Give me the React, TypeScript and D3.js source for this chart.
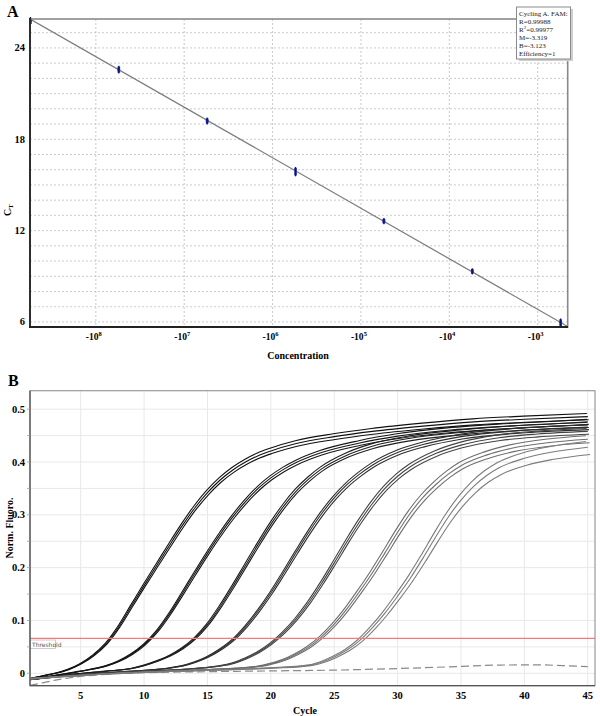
import React from "react";
import * as d3 from "d3";

// ---------- Panel A data ----------
const logConc = [8.74, 7.74, 6.74, 5.74, 4.74, 3.74, 2.74];
const ctRep1 = [25.85, 22.65, 19.25, 16.0, 12.65, 9.35, 6.05];
const ctRep2 = [25.7, 22.5, 19.15, 15.75, 12.6, 9.3, 5.85];
const fitM = -3.319;
const fitB = -3.123;
const legendTitle = "Cycling A. FAM:";
const legendR = "0.99988";
const legendR2 = "0.99977";
const legendEff = "1";
const aYTicks = [6, 12, 18, 24];
const aXDecades = [8, 7, 6, 5, 4, 3];

// ---------- Panel B data ([cycle, norm. fluorescence]) ----------
const group1: [number, number][] = [[1,-0.010],[2,-0.005],[3,0.0],[4,0.007],[5,0.018],[6,0.034],[7,0.056],[8,0.088],[9,0.127],[10,0.166],[11,0.204],[12,0.242],[13,0.279],[14,0.313],[15,0.342],[16,0.366],[17,0.385],[18,0.4],[19,0.412],[20,0.421],[22,0.435],[25,0.448],[28,0.458],[32,0.468],[36,0.476],[40,0.481],[45,0.486]];
const group2: [number, number][] = [[1,-0.012],[3,-0.004],[5,0.004],[7,0.014],[8,0.023],[9,0.036],[10,0.054],[11,0.079],[12,0.112],[13,0.15],[14,0.189],[15,0.227],[16,0.263],[17,0.296],[18,0.325],[19,0.35],[20,0.37],[21,0.386],[22,0.399],[24,0.418],[27,0.436],[30,0.449],[34,0.46],[38,0.467],[42,0.472],[45,0.476]];
const group3: [number, number][] = [[1,-0.012],[4,-0.003],[7,0.004],[9,0.009],[10,0.015],[11,0.023],[12,0.033],[13,0.047],[14,0.066],[15,0.092],[16,0.126],[17,0.164],[18,0.204],[19,0.244],[20,0.282],[21,0.316],[22,0.345],[23,0.368],[24,0.387],[26,0.413],[28,0.43],[31,0.445],[35,0.456],[40,0.465],[45,0.47]];
const group4: [number, number][] = [[1,-0.012],[5,-0.002],[9,0.004],[12,0.01],[13,0.014],[14,0.021],[15,0.031],[16,0.045],[17,0.063],[18,0.088],[19,0.118],[20,0.152],[21,0.19],[22,0.229],[23,0.267],[24,0.302],[25,0.332],[26,0.357],[27,0.377],[28,0.394],[30,0.418],[32,0.433],[35,0.448],[40,0.46],[45,0.466]];
const group5: [number, number][] = [[1,-0.011],[6,-0.001],[10,0.004],[14,0.009],[16,0.014],[17,0.019],[18,0.028],[19,0.04],[20,0.056],[21,0.077],[22,0.103],[23,0.134],[24,0.17],[25,0.209],[26,0.249],[27,0.287],[28,0.321],[29,0.35],[30,0.373],[31,0.391],[33,0.416],[35,0.432],[38,0.446],[41,0.453],[45,0.458]];
const group6: [number, number][] = [[1,-0.011],[8,0.0],[12,0.004],[16,0.008],[19,0.013],[20,0.018],[21,0.025],[22,0.036],[23,0.05],[24,0.069],[25,0.093],[26,0.122],[27,0.155],[28,0.19],[29,0.228],[30,0.267],[31,0.303],[32,0.333],[33,0.357],[34,0.377],[35,0.393],[37,0.413],[39,0.426],[42,0.437],[45,0.443]];
const group7: [number, number][] = [[1,-0.01],[8,0.0],[14,0.005],[20,0.01],[23,0.015],[24,0.021],[25,0.031],[26,0.044],[27,0.062],[28,0.086],[29,0.114],[30,0.146],[31,0.18],[32,0.218],[33,0.258],[34,0.296],[35,0.328],[36,0.354],[37,0.374],[38,0.389],[40,0.407],[42,0.418],[45,0.428]];
const negControl: [number, number][] = [[1,-0.023],[2,-0.018],[3,-0.013],[4,-0.009],[5,-0.006],[7,-0.002],[10,0.001],[15,0.003],[20,0.0045],[25,0.006],[30,0.009],[35,0.013],[38,0.0155],[41,0.016],[43,0.0145],[45,0.0125]];
const groups = [group1, group2, group3, group4, group5, group6, group7];
const groupColors = ["#111", "#161616", "#1e1e1e", "#2e2e2e", "#444", "#6e6e6e", "#7c7c7c"];
const replicateShift = [
  [-0.07, 0, 0.07],
  [-0.07, 0, 0.08],
  [-0.08, 0, 0.08],
  [-0.08, 0, 0.1],
  [-0.1, 0, 0.1],
  [-0.15, 0, 0.15],
  [-0.15, 0, 0.18],
];
const replicateGain = [
  [1.012, 1.0, 0.988],
  [1.01, 1.0, 0.99],
  [1.01, 1.0, 0.99],
  [1.01, 1.0, 0.99],
  [1.012, 1.0, 0.988],
  [1.015, 1.0, 0.985],
  [1.025, 1.0, 0.968],
];
const threshold = 0.066;
const bYTicks = [0, 0.1, 0.2, 0.3, 0.4, 0.5];
const bXTicks = [5, 10, 15, 20, 25, 30, 35, 40, 45];

const serif = "'Liberation Serif', 'DejaVu Serif', serif";

export default function App() {
  // Panel A scales
  const ax = d3.scaleLinear().domain([8.745, 2.66]).range([30, 567.7]);
  const ay = d3.scaleLinear().domain([5.67, 25.9]).range([327, 19]);
  const aGridY = d3.range(6, 26);
  const fitLine = d3.line<number>().x((l) => ax(l)).y((l) => ay(fitB - fitM * l));
  const fitDomain = ax.domain();

  // Panel B scales
  const bx = d3.scaleLinear().domain([1, 45.57]).range([30, 595]);
  const by = d3.scaleLinear().domain([-0.0235, 0.535]).range([685.7, 390.7]);
  const bGridY = d3.range(0, 11).map((i) => i * 0.05);
  const curve = (shift: number, gain: number) =>
    d3
      .line<[number, number]>()
      .x((d) => bx(d[0] + shift))
      .y((d) => by(d[1] * gain))
      .curve(d3.curveMonotoneX);

  const [bx0, bx1] = bx.range();
  const [by1, by0] = by.range();

  return (
    <div style={{ position: "absolute", left: 0, top: 0 }}>
      <svg width={600} height={716} style={{ display: "block", background: "#fff" }} fontFamily={serif}>
        <defs>
          <clipPath id="clipB">
            <rect x={bx0} y={by0} width={bx1 - bx0} height={by1 - by0} />
          </clipPath>
          <clipPath id="clipA">
            <rect x={30} y={19} width={537.7} height={308} />
          </clipPath>
        </defs>

        {/* ================= PANEL A ================= */}
        <text x={7} y={17} fontSize={16} fontWeight="bold">A</text>
        <rect x={30} y={19} width={537.7} height={308} fill="#fff" />
        {aGridY.map((v) => (
          <line key={"agy" + v} x1={30} x2={567.7} y1={ay(v)} y2={ay(v)} stroke="#bdbdbd" strokeWidth={0.8} strokeDasharray="2,2" />
        ))}
        {aXDecades.map((d) => (
          <line key={"agx" + d} x1={ax(d)} x2={ax(d)} y1={19} y2={327} stroke="#bdbdbd" strokeWidth={0.8} strokeDasharray="2,2" />
        ))}
        <path d={fitLine(fitDomain) || ""} stroke="#7a7a7a" strokeWidth={1.2} fill="none" clipPath="url(#clipA)" />
        {logConc.map((l, i) => (
          <g key={"pt" + i}>
            {[ctRep1[i], ctRep2[i]].map((v, j) => (
              <g key={j}>
                <rect x={ax(l) - 1.3} y={ay(v) - 2} width={2.6} height={4} fill="#1f2aa8" />
                <rect x={ax(l) - 0.5} y={ay(v) - 2.8} width={1} height={5.6} fill="#0a0f70" />
              </g>
            ))}
          </g>
        ))}
        {/* borders */}
        <rect x={30} y={19} width={537.7} height={308} fill="none" stroke="#8a8a8a" strokeWidth={1.6} />
        <line x1={30} x2={30} y1={18} y2={328} stroke="#222" strokeWidth={1.8} />
        <line x1={29} x2={568} y1={327} y2={327} stroke="#222" strokeWidth={1.8} />
        {aYTicks.map((t) => (
          <text key={"ayt" + t} x={25} y={ay(t) + 3.5} fontSize={10.5} fontWeight="bold" textAnchor="end">{t}</text>
        ))}
        {aXDecades.map((d) => (
          <text key={"axt" + d} x={ax(d) - 2} y={340} fontSize={9.5} fontWeight="bold" textAnchor="middle">
            -10<tspan fontSize={6.5} dy={-4}>{d}</tspan>
          </text>
        ))}
        <text x={298} y={359} fontSize={10} fontWeight="bold" textAnchor="middle">Concentration</text>
        <text transform="translate(11,210) rotate(-90)" fontSize={10} fontWeight="bold" textAnchor="middle">
          C<tspan fontSize={7} dy={2}>T</tspan>
        </text>
        {/* legend box */}
        <rect x={519} y={9} width={54} height={52} fill="#cfcfcf" />
        <rect x={516.5} y={7} width={54} height={52} fill="#fff" stroke="#8a8a8a" strokeWidth={1} />
        <g fontSize={7} fill="#222">
          <text x={519} y={15.5}>{legendTitle}</text>
          <text x={519} y={23.5}>R=<tspan>{legendR}</tspan></text>
          <text x={519} y={31.5}>R<tspan fontSize={5} dy={-3}>2</tspan><tspan dy={3}>={legendR2}</tspan></text>
          <text x={519} y={39.5}>M={fitM.toFixed(3)}</text>
          <text x={519} y={47.5}>B={fitB.toFixed(3)}</text>
          <text x={519} y={56}>Efficiency={legendEff}</text>
        </g>

        {/* ================= PANEL B ================= */}
        <text x={8} y={386} fontSize={16} fontWeight="bold">B</text>
        {bGridY.map((v, i) => (
          <line key={"bgy" + i} x1={bx0} x2={bx1} y1={by(v)} y2={by(v)} stroke="#e8e8e8" strokeWidth={1} />
        ))}
        {bXTicks.map((t) => (
          <line key={"bgx" + t} x1={bx(t)} x2={bx(t)} y1={by0} y2={by1} stroke="#e8e8e8" strokeWidth={1} />
        ))}
        <g clipPath="url(#clipB)">
          <path d={curve(0, 1)(negControl) || ""} stroke="#8a8a8a" strokeWidth={1.2} fill="none" strokeDasharray="8,4" />
          {groups.map((g, gi) =>
            replicateShift[gi].map((s, ri) => (
              <path
                key={"c" + gi + "_" + ri}
                d={curve(s, replicateGain[gi][ri])(g) || ""}
                stroke={groupColors[gi]}
                strokeWidth={1.1}
                fill="none"
              />
            ))
          )}
          <line x1={bx0} x2={bx1} y1={by(threshold)} y2={by(threshold)} stroke="#f07b7b" strokeWidth={1.3} />
        </g>
        <rect x={30.5} y={640} width={25} height={8.5} fill="#fff" stroke="#b5b5b5" strokeWidth={0.7} />
        <text x={32} y={646.5} fontSize={6} fill="#555" fontFamily="'DejaVu Sans', sans-serif">Threshold</text>
        {/* border */}
        <rect x={bx0} y={by0} width={bx1 - bx0} height={by1 - by0} fill="none" stroke="#9a9a9a" strokeWidth={1.2} />
        <line x1={bx0} x2={bx0} y1={by0} y2={by1} stroke="#555" strokeWidth={1.3} />
        <line x1={bx0} x2={bx1} y1={by1} y2={by1} stroke="#555" strokeWidth={1.3} />
        {bGridY.map((v, i) => (
          <line key={"bmt" + i} x1={bx0 - 3} x2={bx0} y1={by(v)} y2={by(v)} stroke="#999" strokeWidth={0.8} />
        ))}
        {bYTicks.map((t) => (
          <text key={"byt" + t} x={25} y={by(t) + 3.5} fontSize={10.5} fontWeight="bold" textAnchor="end">{t === 0 ? "0" : t.toFixed(1)}</text>
        ))}
        {bXTicks.map((t) => (
          <text key={"bxt" + t} x={bx(t)} y={699} fontSize={10.5} fontWeight="bold" textAnchor="middle">{t}</text>
        ))}
        <text x={305} y={714} fontSize={10} fontWeight="bold" textAnchor="middle">Cycle</text>
        <text transform="translate(13,528) rotate(-90)" fontSize={10} fontWeight="bold" textAnchor="middle">Norm. Fluoro.</text>
      </svg>
    </div>
  );
}
